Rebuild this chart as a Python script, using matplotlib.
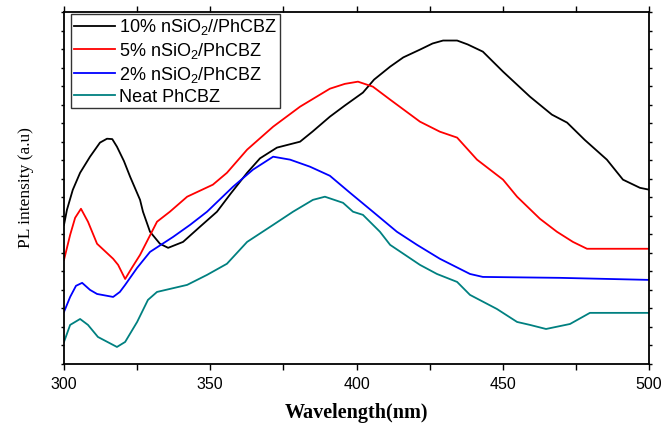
import matplotlib
matplotlib.use("Agg")
import matplotlib.pyplot as plt
from matplotlib.ticker import MultipleLocator

plt.rcParams['mathtext.fontset'] = 'custom'
plt.rcParams['mathtext.rm'] = 'Liberation Sans'
plt.rcParams['mathtext.it'] = 'Liberation Sans:italic'
plt.rcParams['mathtext.bf'] = 'Liberation Sans:bold'

labels = ["10% nSiO$_2$//PhCBZ", "5% nSiO$_2$/PhCBZ", "2% nSiO$_2$/PhCBZ", "Neat PhCBZ"]
colors = ["#000000", "#ff0000", "#0000ff", "#008080"]

x_10 = [300, 301.0, 303.0, 305.5, 308.9, 312.3, 314.7, 316.5, 318.1, 320.5, 322.6, 326.0, 327.0, 329.4, 332.8, 335.6,
        340.7, 346.5, 352.3, 357.0, 362.6, 367.0, 372.8, 380.7, 385.0, 390.9, 396.0, 402.2, 406.0, 411.5, 416.0, 421.7, 426.0, 429.6, 434.4,
        438.0, 443.2, 450.1, 459.3, 466.8, 472.0, 478.0, 485.6, 491.1, 496.9, 500]
y_10 = [7.51, 8.32, 9.40, 10.32, 11.19, 11.95, 12.16, 12.14, 11.73, 10.95, 10.11, 8.86, 8.22, 7.14, 6.49, 6.27,
        6.59, 7.41, 8.22, 9.20, 10.32, 11.10, 11.68, 12.0, 12.55, 13.35, 13.95, 14.65, 15.35, 16.05, 16.55, 16.97, 17.30, 17.46, 17.46,
        17.25, 16.86, 15.78, 14.43, 13.46, 13.03, 12.10, 11.03, 9.95, 9.51, 9.41]

x_5 = [300, 302.1, 303.8, 305.8, 308.2, 311.3, 316.8, 318.5, 320.9, 323.2, 326.0, 331.8, 336.2,
       342.1, 350.9, 355.7, 362.6, 371.5, 380.7, 390.9, 396.0, 400.5, 405.6, 411.5, 421.7, 428.5,
       434.4, 441.2, 450.1, 454.9, 462.7, 468.5, 474.0, 478.8, 500]
y_5 = [5.62, 6.97, 7.89, 8.38, 7.68, 6.49, 5.68, 5.35, 4.59, 5.19, 5.89, 7.68, 8.22,
       9.03, 9.68, 10.32, 11.57, 12.81, 13.89, 14.86, 15.12, 15.24, 14.97, 14.27, 13.08, 12.54,
       12.22, 11.03, 9.95, 9.03, 7.84, 7.14, 6.59, 6.22, 6.22]

x_2 = [300, 302.1, 304.1, 306.2, 308.9, 311.3, 316.8, 319.1, 320.9, 325.0, 329.4, 337.3, 343.1,
       348.9, 357.8, 364.6, 371.5, 377.3, 384.1, 390.9, 397.8, 405.6, 413.8, 420.7, 428.5,
       438.8, 443.2, 469.6, 500]
y_2 = [2.81, 3.62, 4.22, 4.38, 4.0, 3.78, 3.62, 3.89, 4.27, 5.19, 6.05, 6.86, 7.51,
       8.22, 9.57, 10.49, 11.19, 11.03, 10.65, 10.16, 9.24, 8.22, 7.14, 6.43, 5.68,
       4.86, 4.70, 4.65, 4.54]

x_neat = [300, 302.1, 305.5, 308.2, 311.6, 318.1, 320.9, 325.0, 328.7, 331.8, 342.1, 348.9, 355.7,
          362.6, 371.5, 378.3, 385.1, 389.2, 395.4, 398.8, 402.2, 408.0, 411.5, 421.7, 427.5,
          434.4, 438.8, 448.0, 454.9, 459.3, 464.8, 473.0, 479.8, 500]
y_neat = [1.19, 2.11, 2.43, 2.11, 1.46, 0.92, 1.19, 2.27, 3.46, 3.89, 4.27, 4.81, 5.41,
          6.59, 7.51, 8.22, 8.86, 9.03, 8.70, 8.22, 8.05, 7.14, 6.43, 5.35, 4.86,
          4.43, 3.73, 2.97, 2.27, 2.11, 1.89, 2.16, 2.76, 2.76]

xs = [x_10, x_5, x_2, x_neat]
ys = [y_10, y_5, y_2, y_neat]

fig = plt.figure(figsize=(6.62, 4.23), dpi=100)
ax = fig.add_axes([64/662, 1 - 364/423, (649-64)/662, (364-12)/423])

for x, y, c, l in zip(xs, ys, colors, labels):
    ax.plot(x, y, color=c, lw=1.3, label=l)

ax.set_xlim(300, 500)
ax.set_ylim(0, 19)
ax.xaxis.set_major_locator(MultipleLocator(50))
ax.xaxis.set_minor_locator(MultipleLocator(25))
ax.yaxis.set_major_locator(MultipleLocator(1))
ax.set_yticklabels([])
ax.tick_params(axis='x', which='both', direction='out', length=4, width=1, top=True,
               labelsize=11.5, pad=5)
ax.tick_params(axis='y', which='both', direction='out', length=2, width=1, right=True)
for lab in ax.get_xticklabels():
    lab.set_fontfamily('Liberation Sans')
for s in ax.spines.values():
    s.set_linewidth(1.3)

ax.set_xlabel("Wavelength(nm)", family='Liberation Serif', fontsize=14.5,
              fontweight='bold', labelpad=8)
ax.set_ylabel("PL intensity (a.u)", family='Liberation Serif', fontsize=12.5, labelpad=16)

leg = ax.legend(loc='upper left', bbox_to_anchor=(0.012, 0.994), prop={'family': 'Liberation Sans', 'size': 13},
                frameon=True, fancybox=False, edgecolor='black', handlelength=2.3,
                borderpad=0.15, labelspacing=0.22, handletextpad=0.2, borderaxespad=0)
leg.get_frame().set_linewidth(1.0)

fig.savefig("out.png", dpi=100)
